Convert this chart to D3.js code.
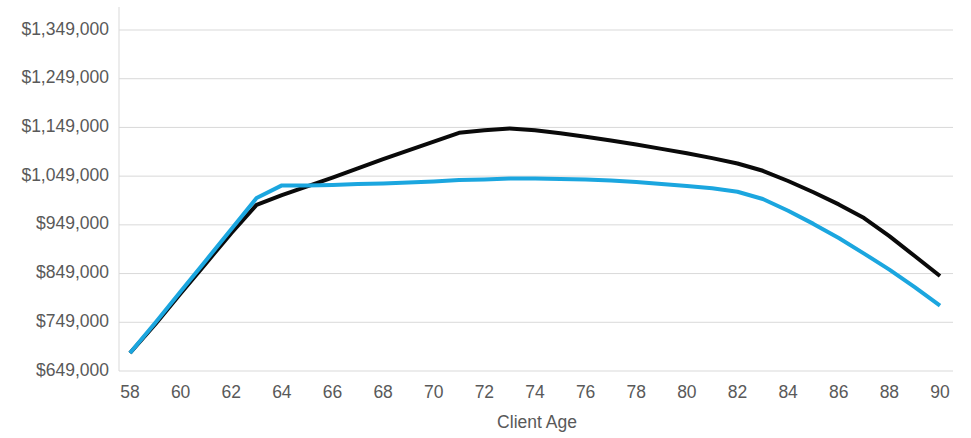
<!DOCTYPE html>
<html>
<head>
<meta charset="utf-8">
<script src="https://cdn.jsdelivr.net/npm/d3@7"></script>
<style>
  body { margin: 0; background: #fff; }
  svg { display: block; }
  text { font-family: "Liberation Sans", Arial, sans-serif; }
</style>
</head>
<body>
<svg id="chart" width="971" height="438"></svg>
<script>
const ages = d3.range(58, 91);
const blackSeries = [686000, 745000, 808000, 870000, 932000, 990000, 1010000, 1028000, 1046000, 1065000,
  1084000, 1102000, 1120000, 1138000, 1143000, 1147000, 1143000, 1137000, 1130000, 1122000,
  1114000, 1105000, 1096000, 1086000, 1075000, 1060000, 1039000, 1016000, 991000, 963000,
  926000, 885000, 844000];
const blueSeries = [686000, 748000, 812000, 876000, 940000, 1004000, 1030000, 1030000, 1031000, 1033000,
  1034000, 1036000, 1038000, 1041000, 1042000, 1044000, 1044000, 1043000, 1042000, 1040000,
  1037000, 1033000, 1029000, 1024000, 1017000, 1002000, 978000, 951000, 922000, 890000,
  857000, 821000, 783000];
const yTicks = [649000, 749000, 849000, 949000, 1049000, 1149000, 1249000, 1349000];
const xTicks = [58, 60, 62, 64, 66, 68, 70, 72, 74, 76, 78, 80, 82, 84, 86, 88, 90];
const xTitle = "Client Age";

const svg = d3.select("#chart");
const plotLeft = 119, plotRight = 953, plotTop = 30, plotBottom = 371;

const x = d3.scaleLinear().domain([58, 90]).range([130, 940]);
const y = d3.scaleLinear().domain([649000, 1349000]).range([plotBottom, plotTop]);

// gridlines
svg.append("g").selectAll("line").data(yTicks.slice(1)).join("line")
  .attr("x1", plotLeft).attr("x2", plotRight)
  .attr("y1", d => y(d)).attr("y2", d => y(d))
  .attr("stroke", "#d9d9d9").attr("stroke-width", 1);

// axis lines
svg.append("line").attr("x1", plotLeft).attr("x2", plotLeft).attr("y1", 7).attr("y2", plotBottom)
  .attr("stroke", "#d9d9d9").attr("stroke-width", 1);
svg.append("line").attr("x1", plotLeft).attr("x2", plotRight).attr("y1", plotBottom).attr("y2", plotBottom)
  .attr("stroke", "#d9d9d9").attr("stroke-width", 1);

// y axis labels
const fmt = d3.format("$,");
svg.append("g").selectAll("text").data(yTicks).join("text")
  .attr("x", 109).attr("y", d => y(d))
  .attr("text-anchor", "end").attr("dominant-baseline", "middle")
  .attr("font-size", 17.5).attr("fill", "#595959")
  .text(d => fmt(d));

// x axis labels
svg.append("g").selectAll("text").data(xTicks).join("text")
  .attr("x", d => x(d)).attr("y", 393)
  .attr("text-anchor", "middle").attr("dominant-baseline", "middle")
  .attr("font-size", 17.5).attr("fill", "#595959")
  .text(d => d);

svg.append("text").attr("x", 537).attr("y", 423)
  .attr("text-anchor", "middle").attr("dominant-baseline", "middle")
  .attr("font-size", 17.5).attr("fill", "#595959").text(xTitle);

const line = d3.line().x((d, i) => x(ages[i])).y(d => y(d));

svg.append("path").datum(blackSeries).attr("d", line)
  .attr("fill", "none").attr("stroke", "#0a0a0a").attr("stroke-width", 4)
  .attr("stroke-linejoin", "round");
svg.append("path").datum(blueSeries).attr("d", line)
  .attr("fill", "none").attr("stroke", "#1ba6df").attr("stroke-width", 4)
  .attr("stroke-linejoin", "round");
</script>
</body>
</html>
